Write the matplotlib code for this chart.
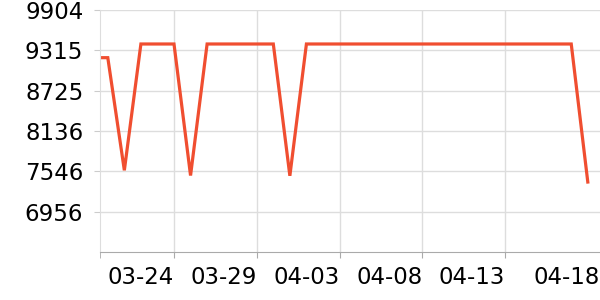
import pandas as pd
import matplotlib
matplotlib.use("Agg")
import matplotlib.pyplot as plt

# daily values
dates = pd.date_range("2024-03-19", "2024-04-18", freq="D")
values = [9207, 9207, 7560, 9407, 9407, 9407, 7484, 9407, 9407, 9407,
          9407, 9407, 7480, 9407, 9407, 9407, 9407, 9407, 9407, 9407,
          9407, 9407, 9407, 9407, 9407, 9407, 9407, 9407, 9407, 9407,
          7389]

y_ticks = [6956, 7546, 8136, 8725, 9315, 9904]
x_ticks = ["2024-03-24", "2024-03-29", "2024-04-03", "2024-04-08", "2024-04-13"]
x_labels = ["03-24", "03-29", "04-03", "04-08", "04-13"]
last_tick, last_label = "2024-04-18", "04-18"

fig = plt.figure(figsize=(6, 3), dpi=100)
ax = fig.add_axes([100 / 600, 48 / 300, 500 / 600, 242 / 300])

ax.plot(dates, values, color="#f04e30", linewidth=2.3, solid_joinstyle="miter")

ax.set_ylim(6366, 9904)
ax.set_yticks(y_ticks)
ax.set_yticklabels([str(v) for v in y_ticks])

x_left = pd.Timestamp("2024-03-20") - pd.Timedelta(hours=11.3)
ax.set_xlim(x_left, pd.Timestamp("2024-04-18") + pd.Timedelta(hours=17.7))
ax.set_xticks(pd.to_datetime(x_ticks))
ax.set_xticklabels(x_labels, ha="right")
ax.set_xticks([x_left], minor=True)

ax.grid(True, which="major", color="#dddddd", linewidth=1)

for side in ["top", "right"]:
    ax.spines[side].set_visible(False)
ax.spines["left"].set_color("#dddddd")
ax.spines["bottom"].set_color("#aaaaaa")
ax.tick_params(axis="y", length=4, color="#cccccc", pad=8, labelsize=16.5)
ax.tick_params(axis="x", which="both", length=4, color="#aaaaaa", pad=6,
               labelsize=16.5)

# last label sits a bit right of its (hidden) tick
ax.annotate(last_label, xy=(pd.Timestamp(last_tick), 0),
            xycoords=("data", "axes fraction"), xytext=(12, -14),
            textcoords="offset pixels", ha="right", va="top", fontsize=16.5)

fig.savefig("out.png", dpi=100)
